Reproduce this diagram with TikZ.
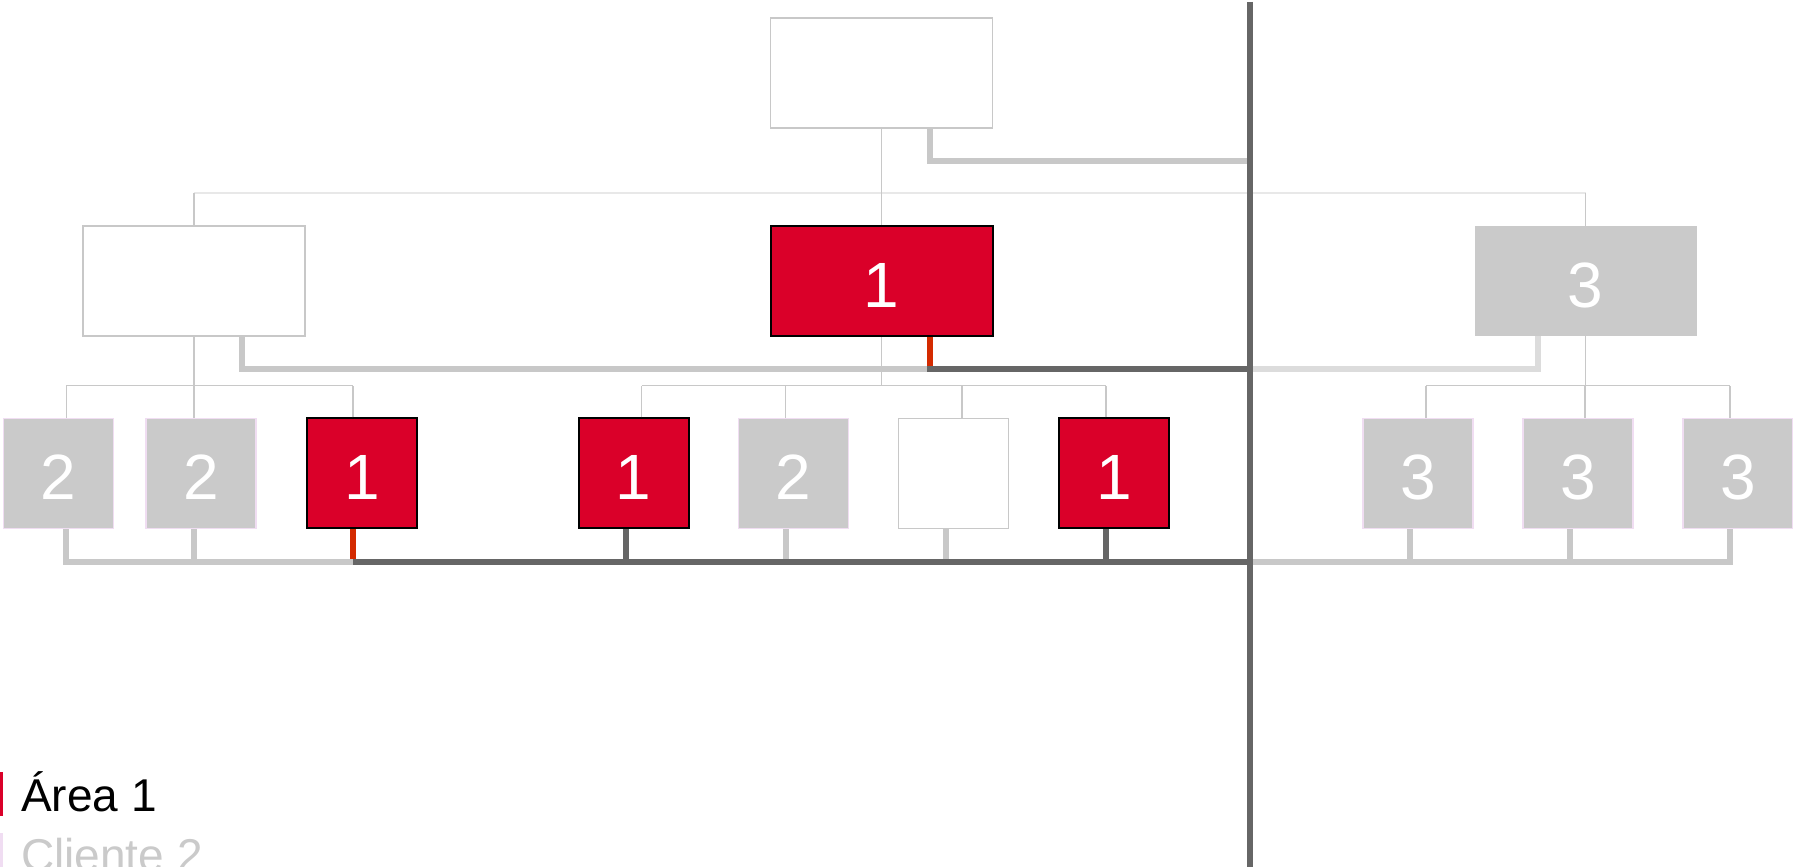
\documentclass[tikz,border=0pt]{standalone}
\usepackage{fontspec}
\setmainfont{Liberation Sans}
\usetikzlibrary{positioning, calc}
\definecolor{areared}{HTML}{DA0029}
\definecolor{stubred}{HTML}{D42A00}
\definecolor{darkline}{HTML}{666666}
\definecolor{lightline}{HTML}{C8C8C8}
\definecolor{paleline}{HTML}{DCDCDC}
\definecolor{faintline}{HTML}{E8E8E8}
\definecolor{lilac}{HTML}{F0DDF2}
\definecolor{boxgray}{HTML}{CACACA}

\begin{document}
\begin{tikzpicture}[
  x=1pt, y=-1pt,
  unitbox/.style={rectangle, minimum width=222pt, minimum height=110pt, inner sep=0pt,
                  text height=52pt, text depth=0pt,
                  font=\fontsize{64}{64}\selectfont, text=white},
  seatbox/.style={rectangle, minimum width=110pt, minimum height=110pt, inner sep=0pt,
                  text height=52pt, text depth=0pt,
                  font=\fontsize{64}{64}\selectfont, text=white},
  blankbox/.style={draw=lightline, line width=1.5pt, fill=white},
  areabox/.style={draw=black, line width=2pt, fill=areared},
  clientbox/.style={draw=lilac, line width=1.5pt, fill=boxgray},
  otherbox/.style={fill=boxgray},
  tieline/.style={lightline, line width=1.6pt},
  busline/.style={line width=6pt},
  legtext/.style={anchor=base west, inner sep=0pt, font=\fontsize{46}{46}\selectfont}
]
\useasboundingbox[fill=white] (0,0) rectangle (1793,867);

% bus levels on the separator
\coordinate (busT) at (1250,161);
\coordinate (busM) at (1250,369);
\coordinate (busB) at (1250,562);
\coordinate (rowA) at (0,193);
\coordinate (rowB) at (0,385.5);
\coordinate (sepT) at (1250,2);
\coordinate (sepB) at (1250,867);

% top and middle row
\node[unitbox, blankbox] (top) at (881.6,73.2) {};
\node[unitbox, blankbox] (midL) at (193.8,281) {};
\node[unitbox, areabox] (midA) at (881.6,281) {1};
\node[unitbox, otherbox] (midR) at (1585.5,281) {3};

% bottom row
\foreach \name/\x/\kind/\txt in {
  L1/58.3/clientbox/2, L2/201/clientbox/2, L3/362/areabox/1,
  M1/633.5/areabox/1, M2/793.6/clientbox/2, M3/953.7/blankbox/{},
  M4/1113.8/areabox/1, R1/1418/clientbox/3, R2/1578/clientbox/3,
  R3/1738/clientbox/3
}{
  \node[seatbox, \kind] (\name) at (\x,473.4) {\txt};
}

% thin tree lines
\draw[faintline, line width=1.5pt] (midL.north |- rowA) -- (midR.north |- rowA);
\draw[tieline] (top.south) -- (midA.north);
\draw[tieline] (midL.north) -- (midL.north |- rowA);
\draw[tieline] (midR.north) -- (midR.north |- rowA);
\foreach \up in {midL, midA, midR}{
  \draw[tieline] (\up.south) -- (\up.south |- rowB);
}
\draw[tieline] ([xshift=8]L1.north |- rowB) -- ([xshift=-9]L3.north |- rowB);
\draw[tieline] ([xshift=8]M1.north |- rowB) -- ([xshift=-8]M4.north |- rowB);
\draw[tieline] ([xshift=8]R1.north |- rowB) -- ([xshift=-8]R3.north |- rowB);
\foreach \kid/\dx in {L1/8, L2/-7, L3/-9, M1/8, M2/-8, M3/8, M4/-8, R1/8, R2/7, R3/-8}{
  \draw[tieline] ([xshift=\dx]\kid.north) -- ([xshift=\dx]\kid.north |- rowB);
}

% thick bus lines
\draw[busline, lightline] ([xshift=48]top.south) |- (busT);

\draw[busline, lightline] ([xshift=48]midL.south) |- ([xshift=48]midA.south |- busM);
\draw[busline, stubred] ([xshift=48]midA.south) -- ([xshift=48]midA.south |- busM);
\draw[busline, darkline, line cap=rect] ([xshift=48]midA.south |- busM) -- (busM);
\draw[busline, paleline] (busM) -| ([xshift=-48]midR.south);

\foreach \kid/\dx/\col in {L1/8/lightline, L2/-7/lightline, L3/-9/stubred,
  M1/-8/darkline, M2/-8/lightline, M3/-8/lightline, M4/-8/darkline,
  R1/-8/lightline, R2/-8/lightline, R3/-8/lightline}{
  \draw[busline, \col] ([xshift=\dx]\kid.south) -- ([xshift=\dx]\kid.south |- busB);
}
\draw[busline, lightline, line cap=rect] ([xshift=8]L1.south |- busB) -- ([xshift=-9]L3.south |- busB);
\draw[busline, darkline] ([xshift=-9]L3.south |- busB) -- (busB);
\draw[busline, lightline, line cap=rect] (busB) -- ([xshift=-8]R3.south |- busB);

% separator
\draw[darkline, line width=6pt] (sepT) -- (sepB);

% legend
\node[legtext] (legA) at (21,811) {Área 1};
\node[legtext, text=boxgray] (legB) at (21,871) {Cliente 2};
\fill[areared] (0,772) rectangle (2.5,816);
\fill[lilac] (0,833) rectangle (2.5,867);

\end{tikzpicture}
\end{document}
